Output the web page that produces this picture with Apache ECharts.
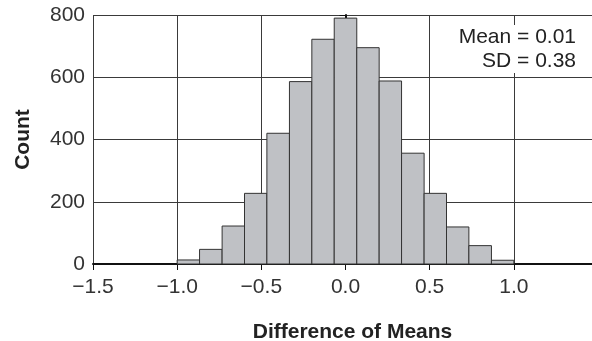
<!DOCTYPE html>
<html>
<head>
<meta charset="utf-8">
<script src="https://cdn.jsdelivr.net/npm/echarts@6/dist/echarts.min.js"></script>
<style>
html,body{margin:0;padding:0;background:#fff;}
#chart{width:592px;height:341px;}
</style>
</head>
<body>
<div id="chart"></div>
<script>
// Histogram bins (left and right edges) and counts
var binLeft  = [-1.0, -0.867, -0.733, -0.6, -0.467, -0.333, -0.2, -0.067, 0.067, 0.2, 0.333, 0.467, 0.6, 0.733, 0.867];
var binRight = [-0.867, -0.733, -0.6, -0.467, -0.333, -0.2, -0.067, 0.067, 0.2, 0.333, 0.467, 0.6, 0.733, 0.867, 1.0];
var counts   = [13, 47, 122, 227, 420, 586, 722, 790, 695, 588, 356, 227, 119, 59, 12];
var yTicks = [0, 200, 400, 600, 800];
var xTicks = [-1.5, -1.0, -0.5, 0.0, 0.5, 1.0];
var statsText = ['Mean = 0.01', 'SD = 0.38'];
var xName = 'Difference of Means';
var yName = 'Count';

var data = binLeft.map(function (l, i) { return [l, binRight[i], counts[i]]; });
var FONT = "'Liberation Sans', Arial, sans-serif";

var statGraphics = statsText.map(function (t, i) {
  return {
    type: 'text',
    right: 14, top: 25 + i * 24, z: 100,
    style: {
      text: t,
      textAlign: 'right',
      font: "21px 'Liberation Sans', Arial, sans-serif",
      fill: '#222',
      lineHeight: 24,
      backgroundColor: '#fff',
      padding: [0, 2, 0, 2]
    }
  };
});

var chart = echarts.init(document.getElementById('chart'), null, {renderer: 'canvas'});
chart.setOption({
  animation: false,
  backgroundColor: '#fff',
  grid: {left: 93, right: -6, top: 15, bottom: 77, outerBoundsMode: 'none', containLabel: false},
  graphic: statGraphics,
  xAxis: {
    type: 'value', min: -1.5, max: 1.5, interval: 0.5,
    name: xName, nameLocation: 'middle', nameGap: 58,
    nameTextStyle: {fontFamily: FONT, fontSize: 21, fontWeight: 'bold', color: '#222', padding: [0, 0, 0, 14]},
    axisLine: {show: true, onZero: false, lineStyle: {color: '#111', width: 2}},
    axisTick: {show: true, length: 6, lineStyle: {color: '#111', width: 1}},
    axisLabel: {
      fontFamily: FONT, fontSize: 21, color: '#333', margin: 13,
      formatter: function (v) {
        var ok = xTicks.some(function (t) { return Math.abs(t - v) < 1e-9; });
        if (!ok) return '';
        return (v < -1e-9 ? '\u2212' : '') + Math.abs(v).toFixed(1);
      }
    },
    splitLine: {show: true, lineStyle: {color: '#3a3a3a', width: 1}}
  },
  yAxis: {
    type: 'value', min: 0, max: 800, interval: 200,
    name: yName, nameLocation: 'middle', nameGap: 59,
    nameTextStyle: {fontFamily: FONT, fontSize: 21, fontWeight: 'bold', color: '#222'},
    axisLine: {show: true, lineStyle: {color: '#111', width: 2}},
    axisTick: {show: true, length: 6, lineStyle: {color: '#111', width: 1}},
    axisLabel: {
      fontFamily: FONT, fontSize: 21, color: '#333', margin: 8,
      formatter: function (v) { return yTicks.indexOf(v) >= 0 ? String(v) : ''; }
    },
    splitLine: {show: true, lineStyle: {color: '#3a3a3a', width: 1}}
  },
  series: [{
    type: 'custom',
    data: data,
    encode: {x: [0, 1], y: 2},
    renderItem: function (params, api) {
      var p0 = api.coord([api.value(0), api.value(2)]);
      var p1 = api.coord([api.value(1), 0]);
      return {
        type: 'rect',
        shape: {x: p0[0], y: p0[1], width: p1[0] - p0[0], height: p1[1] - p0[1]},
        style: {fill: '#bfc1c5', stroke: '#333', lineWidth: 1}
      };
    }
  }]
});
</script>
</body>
</html>
